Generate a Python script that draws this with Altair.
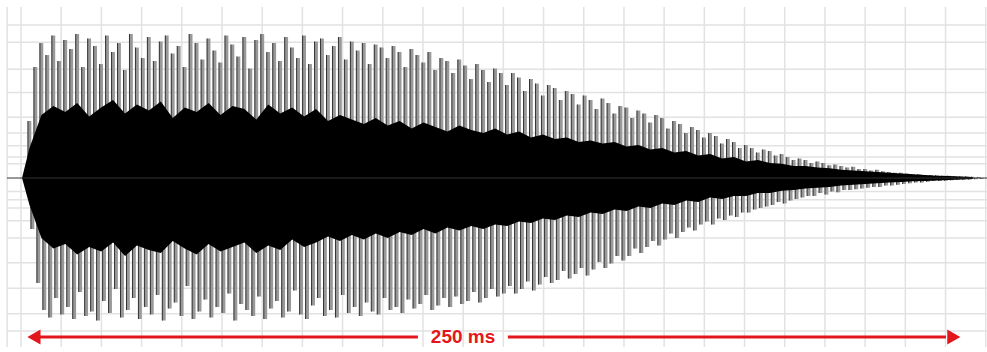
import altair as alt
import pandas as pd

# ---------------- data (amplitude in % of full scale) -------------
upper_tips = [
    38, 74, 90, 82, 95, 78, 92, 86, 96, 74,
    93, 88, 76, 95, 84, 90, 72, 96, 87, 80,
    94, 78, 91, 95, 83, 88, 74, 96, 90, 79,
    93, 85, 77, 95, 89, 81, 94, 73, 92, 96,
    84, 90, 78, 94, 87, 80, 95, 76, 91, 93,
    82, 88, 94, 79, 91, 85, 90, 76, 89, 87,
    80, 88, 84, 74, 86, 82, 77, 84, 72, 80,
    78, 70, 79, 75, 66, 76, 72, 64, 73, 70,
    62, 70, 67, 58, 66, 63, 55, 62, 60, 52,
    58, 56, 49, 55, 52, 46, 53, 50, 43, 48,
    47, 40, 45, 43, 37, 42, 40, 33, 38, 36,
    30, 34, 32, 27, 30, 28, 23, 26, 24, 20,
    22, 20, 17, 19, 18, 15, 16, 14, 12, 13,
    12, 10, 11, 10, 8.5, 9, 8, 7, 7.5, 6,
    6, 5, 5.5, 4.5, 4, 3.5, 3.5, 3, 2.5, 2.5,
    2, 2, 1.8, 1.5, 1.5, 1.2, 1, 1, 0.8, 0.6,
]
lower_tips = [
    34, 70, 88, 93, 80, 91, 86, 94, 76, 92,
    89, 95, 82, 90, 74, 93, 88, 80, 94, 86,
    91, 78, 95, 87, 83, 92, 72, 94, 89, 81,
    93, 86, 90, 77, 95, 84, 88, 92, 79, 94,
    87, 82, 93, 89, 75, 91, 94, 85, 80, 92,
    88, 93, 78, 90, 86, 92, 83, 89, 91, 80,
    88, 86, 90, 81, 87, 84, 78, 88, 85, 80,
    86, 79, 84, 82, 76, 83, 80, 74, 79, 77,
    72, 77, 74, 69, 75, 71, 66, 70, 68, 62,
    67, 64, 60, 65, 61, 56, 60, 57, 52, 55,
    52, 47, 50, 46, 42, 45, 41, 37, 40, 36,
    33, 35, 31, 29, 31, 27, 28, 25, 26, 23,
    23, 21, 20, 19, 18, 16, 17, 15, 14, 13,
    12, 12, 10, 11, 9, 9.5, 8, 8, 7.5, 7,
    6.5, 6, 6, 5, 5, 4.5, 4, 3.5, 3, 3,
    2.5, 2, 2, 1.8, 1.5, 1.3, 1.1, 1, 0.8, 0.6,
]
core_top = [
    0,
    20, 42, 48, 44, 50, 41, 47, 52, 43, 49,
    45, 51, 40, 47, 44, 50, 42, 48, 46, 39,
    49, 43, 47, 41, 46, 38, 42, 39, 36, 40,
    35, 38, 33, 37, 34, 31, 35, 32, 30, 33,
    29, 31, 27, 29, 26, 27, 24, 25, 23, 24,
    21, 22, 19, 20, 17, 18, 15, 16, 13, 14,
    11, 12, 10, 9.5, 8, 8, 7, 6.5, 5.5, 5,
    4.5, 4, 3.5, 3, 2.5, 2, 1.6, 1.3, 1, 0.7,
]
core_bottom = [
    0,
    18, 40, 47, 44, 51, 46, 49, 43, 52, 45,
    48, 50, 42, 47, 51, 44, 49, 46, 43, 50,
    45, 48, 41, 46, 43, 39, 42, 38, 41, 37,
    40, 36, 38, 34, 37, 33, 35, 32, 34, 31,
    32, 29, 30, 27, 28, 25, 26, 23, 24, 21,
    22, 19, 20, 17, 18, 15, 16, 13, 14, 12,
    12, 10, 10, 8.5, 8, 7, 6.5, 6, 5, 4.5,
    4, 3.5, 3, 2.6, 2.2, 2, 1.6, 1.3, 1, 0.7,
]
grid_y_pct = [102, 90.5, 72.5, 57, 40.5, 30, 21.5, 14, 9.5,
              -9, -14.5, -20, -28.5, -40, -56.5, -73.5, -90.5, -102]
arrow_label = ["250 ms"]
span_ms = 250

# ---------------- tables -------------
spike_step = 1.6  # ms between successive spikes
up_t = [2 + spike_step * i for i in range(len(upper_tips))]
lo_t = [2.8 + spike_step * i for i in range(len(lower_tips))]
spikes = pd.DataFrame({"t": up_t + lo_t,
                       "a": upper_tips + [-v for v in lower_tips]})
core_t = [0] + [2 + 2 * spike_step * k for k in range(len(core_top) - 1)]
core = pd.DataFrame({"t": core_t, "top": core_top, "bot": [-v for v in core_bottom]})

grid_x = [-4.0] + [-0.27 + 10.772 * k for k in range(25)]

RED = "#e3171b"
GRID = "#e2e2e2"
xs = alt.Scale(domain=[-5.9, 258.6], nice=False, zero=False)
ys = alt.Scale(domain=[-116, 118.7], nice=False, zero=False)

vgrid = alt.Chart(pd.DataFrame({"g": grid_x})).mark_rule(color=GRID, strokeWidth=1.5).encode(
    x=alt.X("g:Q", scale=xs, axis=None),
    y=alt.value(7), y2=alt.value(347),
)
hgrid = alt.Chart(pd.DataFrame({"g": grid_y_pct})).mark_rule(color=GRID, strokeWidth=1.5).encode(
    y=alt.Y("g:Q", scale=ys, axis=None),
    x=alt.value(7), x2=alt.value(987),
)

spike_light = alt.Chart(spikes).mark_rule(color="#999999", strokeWidth=3.7).encode(
    x=alt.X("t:Q", scale=xs, axis=None),
    y=alt.Y("a:Q", scale=ys, axis=None),
    y2=alt.datum(0),
)
spike_dark = alt.Chart(spikes).mark_rule(color="#333333", strokeWidth=1.0, xOffset=-1.5).encode(
    x=alt.X("t:Q", scale=xs, axis=None),
    y=alt.Y("a:Q", scale=ys, axis=None),
    y2=alt.datum(0),
)

core_layer = alt.Chart(core).mark_area(color="black", interpolate="linear").encode(
    x=alt.X("t:Q", scale=xs, axis=None),
    y=alt.Y("top:Q", scale=ys, axis=None),
    y2="bot:Q",
)

center = alt.Chart(pd.DataFrame({"v": [0]})).mark_rule(color="#333333", strokeWidth=1).encode(
    y=alt.Y("v:Q", scale=ys, axis=None),
    x=alt.value(7), x2=alt.value(987),
)

arrow_y = -106
seg = pd.DataFrame({"x0": [4.8, 130.2], "x1": [106.1, 247.6], "y": [arrow_y, arrow_y]})
seg_layer = alt.Chart(seg).mark_rule(color=RED, strokeWidth=3).encode(
    x=alt.X("x0:Q", scale=xs, axis=None),
    x2="x1:Q",
    y=alt.Y("y:Q", scale=ys, axis=None),
)
heads = pd.DataFrame({"x": [3.2, 3.2 + span_ms - 3.5], "y": [arrow_y, arrow_y],
                      "shape": ["triangle-left", "triangle-right"]})
head_layer = alt.Chart(heads).mark_point(filled=True, size=230, color=RED, opacity=1).encode(
    x=alt.X("x:Q", scale=xs, axis=None),
    y=alt.Y("y:Q", scale=ys, axis=None),
    shape=alt.Shape("shape:N", scale=None),
)
label = pd.DataFrame({"x": [118.2], "y": [arrow_y], "txt": arrow_label})
label_layer = alt.Chart(label).mark_text(
    font="Liberation Sans", fontSize=19, fontWeight="bold", color=RED, baseline="middle"
).encode(
    x=alt.X("x:Q", scale=xs, axis=None),
    y=alt.Y("y:Q", scale=ys, axis=None),
    text="txt:N",
)

chart = alt.layer(
    vgrid, hgrid, spike_light, spike_dark, core_layer, center, seg_layer, head_layer, label_layer
).properties(
    width=987, height=352, padding=0, autosize=alt.AutoSizeParams(type="none"),
    background="white",
).configure_view(strokeWidth=0)

chart.save("out.html", embed_options={"renderer": "svg", "actions": False})
